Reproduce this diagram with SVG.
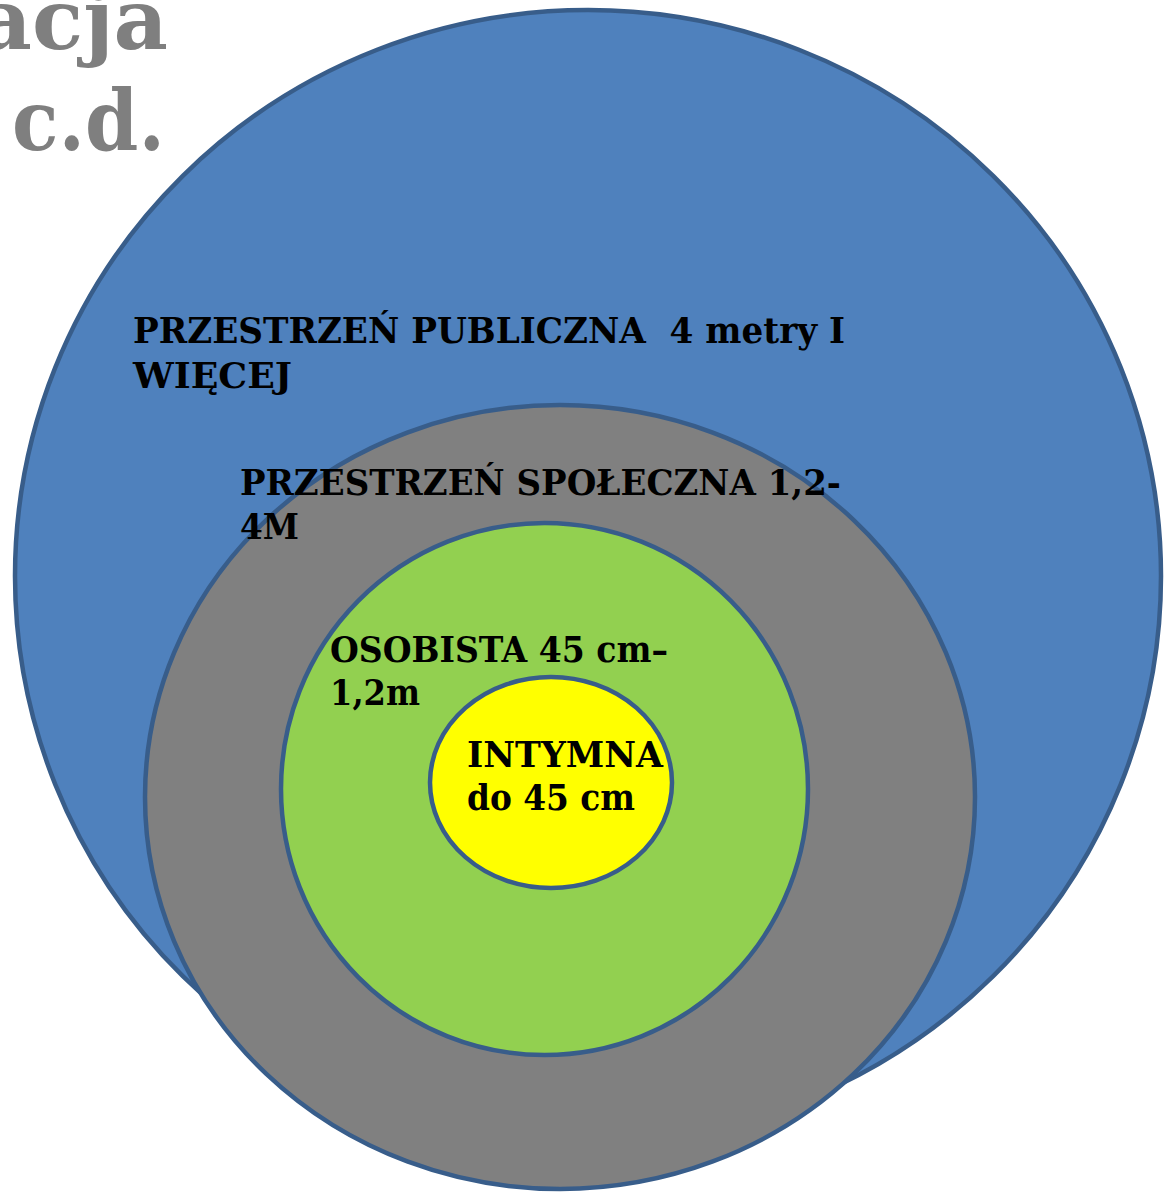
<svg xmlns="http://www.w3.org/2000/svg" width="1164" height="1192" viewBox="0 0 1164 1192">
  <style>
    .ring { stroke: #385D8A; stroke-width: 4.5; }
    .label { font-family: "DejaVu Serif", "Liberation Serif", serif; font-weight: bold; font-size: 35px; fill: #000000; }
    .title { font-family: "DejaVu Serif", "Liberation Serif", serif; font-weight: bold; font-size: 84px; fill: #7F7F7F; }
  </style>
  <rect width="1164" height="1192" fill="#FFFFFF"/>

  <!-- slide title, running off the top-left corner -->
  <g id="title">
    <text class="title" x="168" y="49" text-anchor="end">acja</text>
    <text class="title" x="12" y="150" textLength="153" lengthAdjust="spacingAndGlyphs">c.d.</text>
  </g>

  <!-- public zone -->
  <g id="zone-public">
    <ellipse class="ring" cx="588" cy="576" rx="573" ry="566" fill="#4F81BD"/>
    <text class="label" x="133" y="343" textLength="712" lengthAdjust="spacingAndGlyphs" xml:space="preserve">PRZESTRZEŃ PUBLICZNA  4 metry I</text>
    <text class="label" x="133" y="388" textLength="159" lengthAdjust="spacingAndGlyphs">WIĘCEJ</text>
  </g>

  <!-- social zone -->
  <g id="zone-social">
    <ellipse class="ring" cx="560" cy="797" rx="415" ry="392" fill="#808080"/>
    <text class="label" x="240" y="495" textLength="601" lengthAdjust="spacingAndGlyphs">PRZESTRZEŃ SPOŁECZNA 1,2-</text>
    <text class="label" x="240" y="539" textLength="59" lengthAdjust="spacingAndGlyphs">4M</text>
  </g>

  <!-- personal zone -->
  <g id="zone-personal">
    <ellipse class="ring" cx="544.5" cy="789" rx="263.5" ry="266" fill="#92D050"/>
    <text class="label" x="330" y="662" textLength="338" lengthAdjust="spacingAndGlyphs">OSOBISTA 45 cm–</text>
    <text class="label" x="330" y="705" textLength="90" lengthAdjust="spacingAndGlyphs">1,2m</text>
  </g>

  <!-- intimate zone -->
  <g id="zone-intimate">
    <ellipse class="ring" cx="551" cy="782.5" rx="121" ry="105.5" fill="#FFFF00"/>
    <text class="label" x="467" y="767" textLength="196" lengthAdjust="spacingAndGlyphs">INTYMNA</text>
    <text class="label" x="467" y="810" textLength="168" lengthAdjust="spacingAndGlyphs">do 45 cm</text>
  </g>
</svg>
